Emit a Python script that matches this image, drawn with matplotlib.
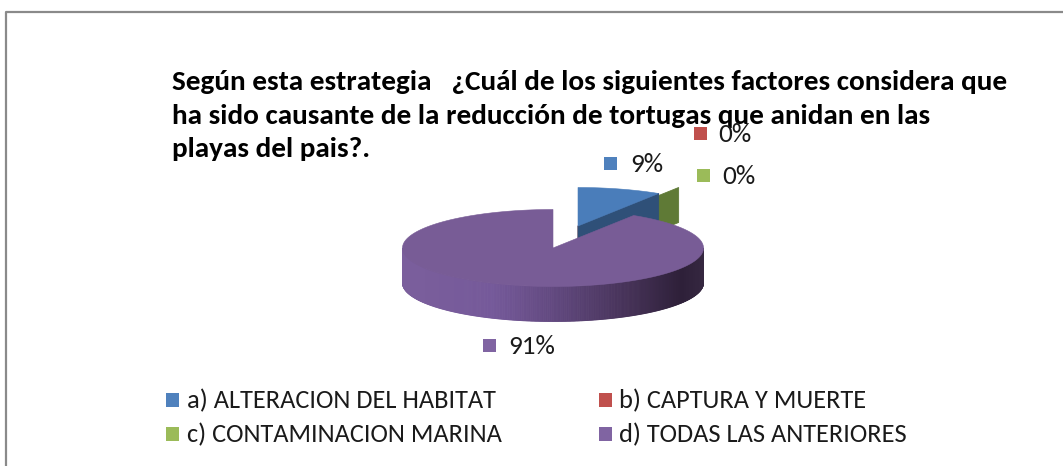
"""Encuesta tortugas: pie 3D (estilo Excel) con leyenda en dos columnas."""

import matplotlib

matplotlib.use("Agg")
import matplotlib.pyplot as plt
import numpy as np
from matplotlib import font_manager
from matplotlib.colors import LinearSegmentedColormap
from matplotlib.patches import Polygon, Rectangle


TITLE_LINES = [
    "Según esta estrategia   ¿Cuál de los siguientes factores considera que",
    "ha sido causante de la reducción de tortugas que anidan en las",
    "playas del pais?.",
]
CATEGORIES = [
    "a) ALTERACION DEL HABITAT",
    "b) CAPTURA Y MUERTE",
    "c) CONTAMINACION MARINA",
    "d) TODAS LAS ANTERIORES",
]
VALUES = [9, 0, 0, 91]

LEGEND_COLORS = ["#4F81BD", "#C0504D", "#9BBB59", "#8064A2"]
TOP_COLORS = ["#4A7DBA", "#B84B48", "#93B254", "#785C96"]
FACE_COLORS = ["#2F5078", "#7A2F2D", "#5F7A36", "#4B3862"]

W, H = 1063, 466
CX, CY, RX, RY, DEPTH = 553, 248, 150.5, 38.5, 35
SHIFT = [(25, -22), (25, -22), (45, -28), (0, 0)]  # explosion, pixels
SIDE_CMAP = LinearSegmentedColormap.from_list(
    "side",
    [(0.0, "#7B5F9C"), (0.3, "#75599A"), (0.5, "#624980"),
     (0.75, "#463258"), (0.93, "#2E2039"), (1.0, "#352740")],
)


def pick_font(*names):
    for name in names:
        try:
            font_manager.findfont(name, fallback_to_default=False)
            return name
        except ValueError:
            continue
    return "DejaVu Sans"


FONT = pick_font("Carlito", "Lato", "Open Sans", "DejaVu Sans")


def rim(theta, center):
    t = np.radians(theta)
    return center[0] + RX * np.cos(t), center[1] - RY * np.sin(t)


def fit_width(fig, text, width):
    renderer = fig.canvas.get_renderer()
    box = text.get_window_extent(renderer)
    text.set_fontsize(text.get_fontsize() * width / box.width)
    return text.get_fontsize()


def draw_pie(ax):
    total = sum(VALUES)
    start = 90.0
    slices = []
    for i, v in enumerate(VALUES):
        span = 360.0 * v / total
        slices.append((i, start - span, start))
        start -= span

    # back-to-front: zero slices and exploded slice first, big slice last
    order = [1, 2, 0, 3]
    for i in order:
        _, t1, t2 = slices[i]
        c = (CX + SHIFT[i][0], CY + SHIFT[i][1])
        # visible radial face at the clockwise end
        if np.cos(np.radians(t1)) > 1e-6:
            x1, y1 = rim(t1, c)
            quad = [c, (x1, y1), (x1, y1 + DEPTH), (c[0], c[1] + DEPTH)]
            ax.add_patch(Polygon(quad, closed=True, facecolor=FACE_COLORS[i],
                                 edgecolor=FACE_COLORS[i], lw=0.6))
        if t2 - t1 <= 0:
            continue
        # front outer wall
        thetas = np.linspace(t1, t2, int((t2 - t1) * 2) + 2)
        for a, b in zip(thetas[:-1], thetas[1:]):
            mid = np.radians((a + b) / 2)
            if np.sin(mid) >= 0:
                continue
            xa, ya = rim(a, c)
            xb, yb = rim(b, c)
            col = SIDE_CMAP((np.cos(mid) + 1) / 2) if i == 3 else FACE_COLORS[i]
            ax.add_patch(Polygon([(xa, ya), (xb, yb), (xb, yb + DEPTH), (xa, ya + DEPTH)],
                                 closed=True, facecolor=col, edgecolor=col, lw=0.6))
        xs, ys = rim(thetas, c)
        top = [c] + list(zip(xs, ys))
        ax.add_patch(Polygon(top, closed=True, facecolor=TOP_COLORS[i],
                             edgecolor=TOP_COLORS[i], lw=0.4))


def main():
    fig = plt.figure(figsize=(W / 100, H / 100), dpi=100, facecolor="white")
    ax = fig.add_axes([0, 0, 1, 1])
    ax.set_xlim(0, W)
    ax.set_ylim(H, 0)
    ax.axis("off")

    # chart-area border (only top and left edges are inside the crop)
    ax.plot([5.5, 5.5, W], [H, 12, 12], color="#8A8A8A", lw=1.6, solid_capstyle="butt")

    draw_pie(ax)

    # title
    baselines = [90, 123.5, 157]
    titles = [
        ax.text(172, y, line, fontsize=19, fontweight="bold", family=FONT,
                color="black", ha="left", va="baseline")
        for line, y in zip(TITLE_LINES, baselines)
    ]
    fig.canvas.draw()
    size = fit_width(fig, titles[0], 835)
    for t in titles[1:]:
        t.set_fontsize(size)

    # data labels
    label_boxes = [(604, 157), (694, 127), (697, 169), (483, 339)]
    label_x = [630, 718, 722, 508]
    labels = []
    for i, v in enumerate(VALUES):
        bx, by = label_boxes[i]
        ax.add_patch(Rectangle((bx, by), 13, 13, facecolor=LEGEND_COLORS[i], edgecolor="none"))
        labels.append(ax.text(label_x[i], by + 7.5, f"{v / sum(VALUES) * 100:.0f}%",
                              fontsize=16, family=FONT, color="#1A1A1A",
                              ha="left", va="center"))
    fig.canvas.draw()
    lsize = fit_width(fig, labels[3], 47)
    for t in labels[:3]:
        t.set_fontsize(lsize)

    # legend
    col_sq = [166, 599]
    col_tx = [187, 619]
    row_sq = [393, 427]
    legend_texts = []
    for i, name in enumerate(CATEGORIES):
        r, col = divmod(i, 2)
        ax.add_patch(Rectangle((col_sq[col], row_sq[r]), 13, 14,
                               facecolor=LEGEND_COLORS[i], edgecolor="none"))
        legend_texts.append(ax.text(col_tx[col], row_sq[r] + 7.5, name, fontsize=15,
                                    family=FONT, color="#1A1A1A", ha="left", va="center"))
    fig.canvas.draw()
    gsize = fit_width(fig, legend_texts[0], 310)
    for t in legend_texts[1:]:
        t.set_fontsize(gsize)

    fig.savefig("out.png", dpi=100, facecolor="white")
    plt.close(fig)


if __name__ == "__main__":
    main()
